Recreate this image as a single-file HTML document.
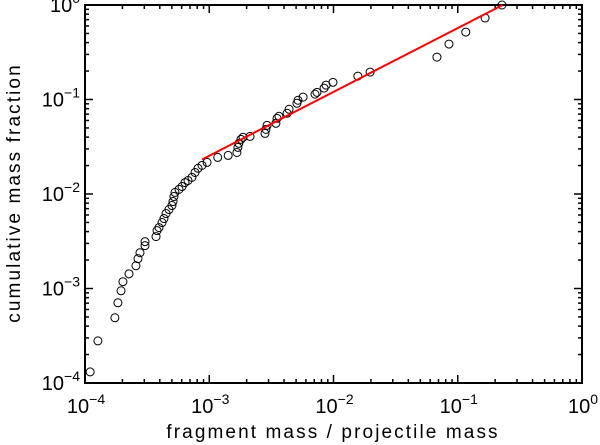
<!DOCTYPE html>
<html><head><meta charset="utf-8"><style>
html,body{margin:0;padding:0;background:#fff;}
svg{display:block;font-family:"Liberation Sans","DejaVu Sans",sans-serif;}
</style></head><body>
<svg id="chart" width="600" height="445" xmlns="http://www.w3.org/2000/svg"></svg>
<script>
const xData=[1.10e-4,1.27e-4,1.74e-4,1.84e-4,1.95e-4,2.02e-4,2.26e-4,2.57e-4,2.67e-4,2.77e-4,3.04e-4,3.04e-4,3.73e-4,3.80e-4,3.94e-4,4.17e-4,4.32e-4,4.49e-4,4.74e-4,5.01e-4,5.11e-4,5.20e-4,5.30e-4,5.71e-4,6.04e-4,6.38e-4,6.75e-4,7.26e-4,7.68e-4,8.12e-4,8.75e-4,9.6e-4,1.17e-3,1.42e-3,1.67e-3,1.70e-3,1.73e-3,1.80e-3,1.87e-3,2.13e-3,2.81e-3,2.86e-3,2.92e-3,3.44e-3,3.51e-3,3.64e-3,4.23e-3,4.39e-3,5.08e-3,5.18e-3,5.69e-3,7.10e-3,7.36e-3,8.40e-3,8.71e-3,9.9e-3,1.57e-2,1.97e-2,6.80e-2,8.50e-2,0.116,0.166,0.227];
const yData=[1.31e-4,2.79e-4,4.9e-4,7.06e-4,9.46e-4,1.18e-3,1.43e-3,1.74e-3,2.07e-3,2.39e-3,2.84e-3,3.13e-3,3.54e-3,4.10e-3,4.41e-3,4.99e-3,5.50e-3,6.21e-3,6.85e-3,7.55e-3,8.32e-3,9.4e-3,1.04e-2,1.12e-2,1.20e-2,1.32e-2,1.39e-2,1.50e-2,1.69e-2,1.87e-2,2.01e-2,2.16e-2,2.44e-2,2.56e-2,2.75e-2,3.11e-2,3.43e-2,3.79e-2,3.98e-2,4.07e-2,4.38e-2,4.83e-2,5.33e-2,5.60e-2,6.32e-2,6.64e-2,7.15e-2,7.88e-2,9.12e-2,9.82e-2,0.106,0.114,0.119,0.132,0.142,0.152,0.177,0.195,0.281,0.386,0.517,0.728,1.0];
const fitX=[8.75e-4,0.23];
const fitY=[2.32e-2,1.0];
const xTickExp=[-4,-3,-2,-1,0];
const yTickExp=[-4,-3,-2,-1,0];

const NS="http://www.w3.org/2000/svg";
const svg=document.getElementById('chart');
const L=85,R=582,T=5,B=383;
function sx(v){return L+(Math.log10(v)+4)/4*(R-L);}
function sy(v){return B-(Math.log10(v)+4)/4*(B-T);}
function mk(tag,attrs,parent){const e=document.createElementNS(NS,tag);for(const k in attrs)e.setAttribute(k,attrs[k]);(parent||svg).appendChild(e);return e;}

const ticks=mk('g',{stroke:'#000','stroke-width':1.5});


for(let d=-4;d<0;d++){for(let m=1;m<10;m++){
  const v=m*Math.pow(10,d);const len=m===1?8:4;
  const x=sx(v),y=sy(v);
  mk('line',{x1:x,y1:B,x2:x,y2:B-len},ticks);mk('line',{x1:x,y1:T,x2:x,y2:T+len},ticks);
  mk('line',{x1:L,y1:y,x2:L+len,y2:y},ticks);mk('line',{x1:R,y1:y,x2:R-len,y2:y},ticks);
}}
const frame=mk('rect',{x:L,y:T,width:R-L,height:B-T,fill:'none',stroke:'#000','stroke-width':2});



function lbl(t,e){t.innerHTML='10<tspan dy="-9" font-size="14">'+(e<0?'\u2212'+(-e):e)+'</tspan>';}
xTickExp.forEach(e=>{
  const t=mk('text',{x:sx(Math.pow(10,e))+1,y:413,'font-size':20,'text-anchor':'middle'});
  
  
  lbl(t,e);
});
yTickExp.forEach(e=>{
  const t=mk('text',{x:80,y:sy(Math.pow(10,e))+7,'font-size':20,'text-anchor':'end'});
  
  
  lbl(t,e);
});

const xt=mk('text',{x:333,y:438,'font-size':19,'letter-spacing':'2.1','text-anchor':'middle'});


xt.textContent='fragment mass / projectile mass';
const yt=mk('text',{x:0,y:0,'font-size':19,'letter-spacing':'2.1','text-anchor':'middle',transform:'translate(20,193) rotate(-90)'});


yt.textContent='cumulative mass fraction';

const pts=mk('g',{fill:'none',stroke:'#000','stroke-width':1});


xData.forEach((x,i)=>{
  const c=mk('circle',{cx:sx(x),cy:sy(yData[i]),r:4},pts);
  
  
});
const fit=mk('line',{x1:sx(fitX[0]),y1:sy(fitY[0]),x2:sx(fitX[1]),y2:sy(fitY[1]),stroke:'#f00','stroke-width':2});


</script>
</body></html>
